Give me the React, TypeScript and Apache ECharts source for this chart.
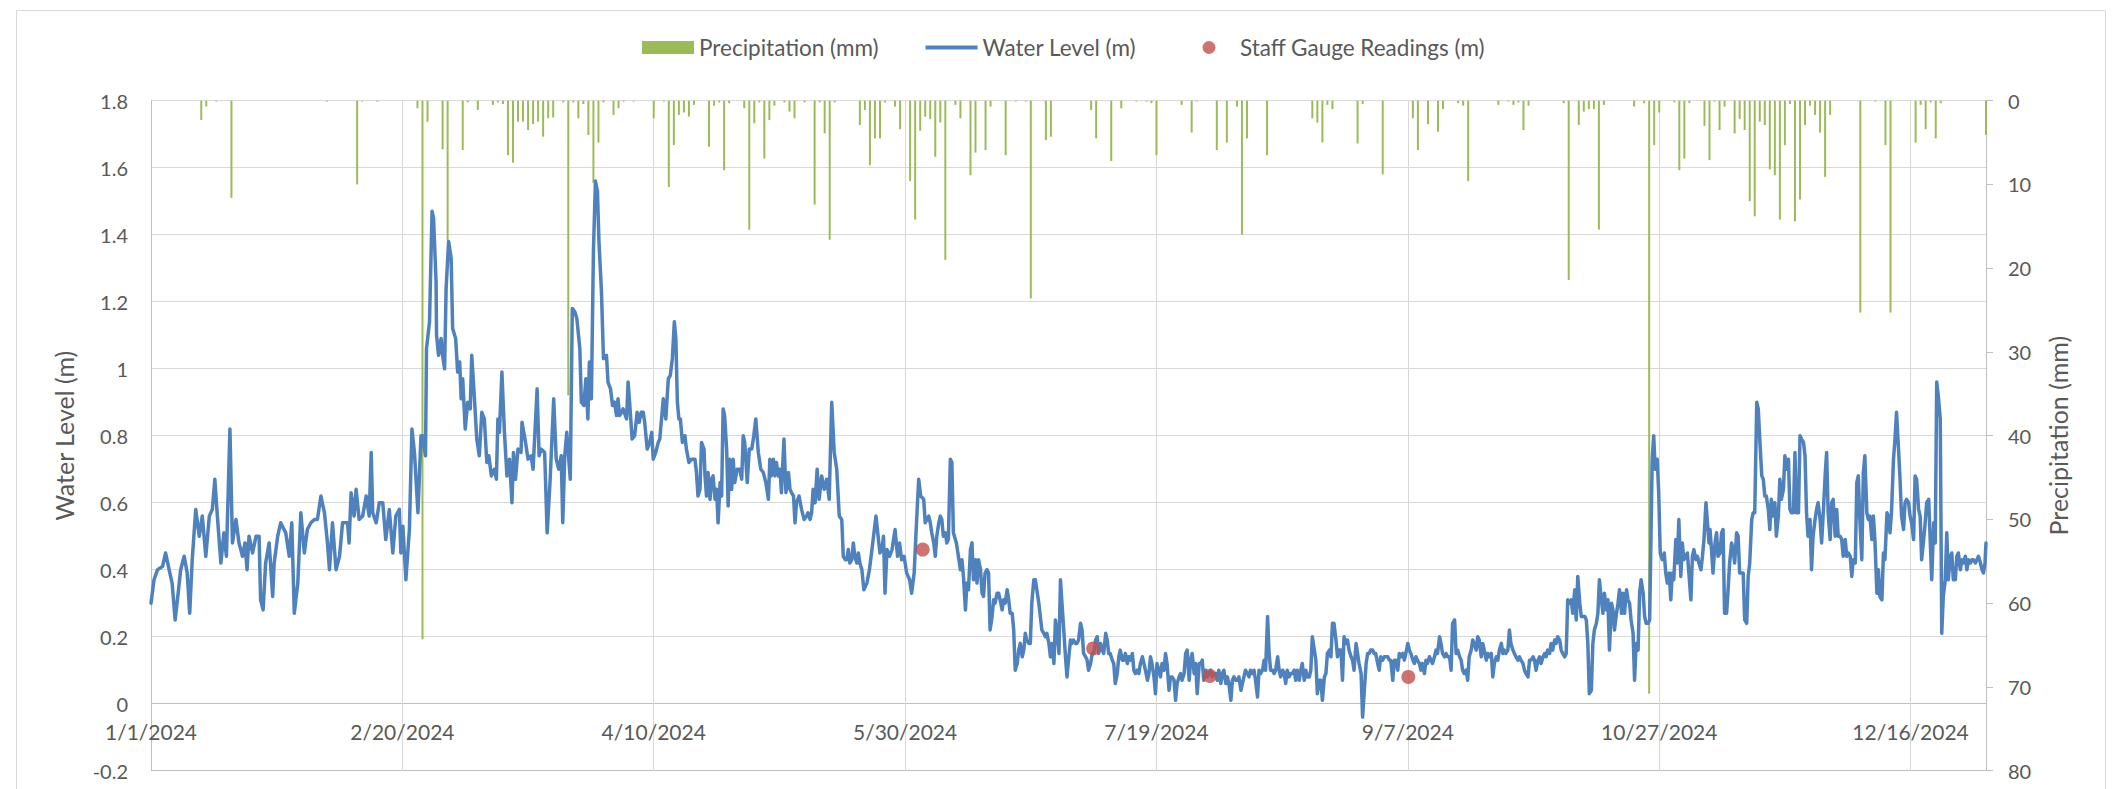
import React, { useEffect, useRef } from "react";
import * as echarts from "echarts";

// ---- Tick labels ----
const xTickLabels = ["1/1/2024", "2/20/2024", "4/10/2024", "5/30/2024", "7/19/2024", "9/7/2024", "10/27/2024", "12/16/2024"];

// ---- Water level (m): [day offset from 1/1/2024, level] ----
const levelJanFeb: [number, number][] = [
  [0,0.30],[0.6,0.37],[1.3,0.40],[2.3,0.41],[2.9,0.45],[3.6,0.40],[4.2,0.36],[4.8,0.25],[5.4,0.33],[5.9,0.40],
  [6.6,0.44],[7.2,0.39],[7.7,0.27],[8.2,0.43],[8.9,0.58],[9.6,0.50],[10.2,0.56],[10.9,0.44],[11.6,0.56],[12.2,0.58],
  [12.7,0.67],[13.2,0.56],[13.9,0.42],[14.5,0.51],[15.0,0.44],[15.7,0.82],[16.2,0.48],[16.9,0.55],[17.5,0.48],[18.2,0.44],
  [18.7,0.48],[19.1,0.40],[19.5,0.50],[20.2,0.45],[20.9,0.50],[21.5,0.50],[21.8,0.31],[22.3,0.28],[22.8,0.42],[23.5,0.48],
  [24.2,0.32],[24.5,0.42],[25.2,0.50],[25.8,0.54],[26.8,0.51],[27.5,0.44],[28.0,0.54],[28.5,0.27],[29.2,0.36],[29.8,0.57],
  [30.5,0.45],[31.1,0.52],[31.8,0.54],[32.5,0.55],[33.1,0.55],[33.8,0.62],[34.5,0.57],[35.1,0.48],[35.5,0.40],[36.1,0.54],
  [36.8,0.40],[37.5,0.44],[38.1,0.54],[39.1,0.54],[39.4,0.48],[39.8,0.63],[40.4,0.56],[40.8,0.64],[41.4,0.55],[42.1,0.56],
  [42.8,0.62],[43.4,0.56],[43.8,0.75],[44.1,0.57],[44.8,0.54],[45.4,0.60],[46.1,0.60],[46.7,0.49],[47.4,0.58],[48.1,0.45],
  [48.7,0.56],
];
const levelFebApr: [number, number][] = [
  [49.4,0.58],[49.7,0.45],[50.1,0.53],[50.7,0.37],[51.4,0.52],[51.9,0.82],[52.4,0.75],[53.1,0.57],[53.7,0.80],[54.0,0.80],
  [54.6,0.74],[54.8,1.06],[55.4,1.14],[55.9,1.47],[56.2,1.45],[56.7,1.26],[56.8,1.10],[57.2,1.04],[57.7,1.09],[58.0,1.04],
  [58.4,1.00],[58.7,1.24],[59.2,1.38],[59.7,1.33],[60.0,1.12],[60.6,1.09],[61.0,0.99],[61.4,1.02],[61.7,0.91],[62.0,0.97],
  [62.5,0.82],[63.0,0.90],[63.5,0.88],[63.8,1.04],[64.3,0.92],[64.8,0.79],[65.3,0.74],[65.8,0.87],[66.3,0.85],[66.8,0.72],
  [67.2,0.74],[67.7,0.68],[68.3,0.70],[68.7,0.67],[69.0,0.85],[69.3,0.81],[69.8,0.99],[70.3,0.81],[70.8,0.68],[71.3,0.73],
  [71.8,0.60],[72.1,0.75],[72.5,0.67],[73.0,0.76],[73.6,0.75],[73.8,0.84],[74.5,0.78],[75.0,0.73],[75.6,0.74],[76.0,0.70],
  [76.8,0.94],[77.2,0.74],[77.6,0.76],[78.3,0.75],[78.8,0.51],[79.4,0.67],[80.1,0.91],[80.6,0.73],[81.1,0.70],[81.6,0.74],
  [81.9,0.54],[82.3,0.74],[82.7,0.81],[83.4,0.67],[83.8,1.18],[84.3,1.17],[84.7,1.15],[85.3,1.06],[85.6,0.90],[86.1,0.89],
  [86.5,0.97],[86.9,0.85],[87.2,1.02],[87.6,0.91],[88.0,1.35],[88.4,1.56],[88.8,1.53],[89.1,1.38],[89.6,1.23],[90.0,1.03],
  [90.6,1.04],[90.9,0.96],[91.4,0.94],[91.8,0.89],[92.2,0.90],[92.6,0.86],[92.9,0.91],[93.2,0.86],[93.6,0.87],[93.9,0.88],
  [94.6,0.85],[94.9,0.96],[95.2,0.90],[95.7,0.79],[96.2,0.80],[96.7,0.87],[97.1,0.84],[97.5,0.87],[97.9,0.87],[98.2,0.84],
  [98.7,0.76],[99.2,0.78],[99.6,0.81],[99.9,0.73],[100.4,0.75],[100.9,0.78],[101.2,0.79],[101.9,0.91],[102.4,0.85],[102.9,0.97],
];
const levelAprJun: [number, number][] = [
  [103.3,0.98],[103.7,1.03],[104.1,1.14],[104.4,1.09],[104.7,0.90],[105.0,0.85],[105.3,0.85],[105.7,0.78],[106.2,0.80],[106.5,0.76],
  [107.0,0.72],[107.5,0.73],[108.2,0.73],[108.5,0.69],[108.8,0.62],[109.2,0.64],[109.5,0.78],[110.0,0.76],[110.2,0.68],[110.5,0.62],
  [110.8,0.69],[111.2,0.61],[111.5,0.67],[111.8,0.68],[112.2,0.61],[112.5,0.64],[112.8,0.54],[113.2,0.66],[113.5,0.62],[113.8,0.88],
  [114.1,0.86],[114.5,0.76],[114.8,0.59],[115.1,0.73],[115.5,0.64],[115.8,0.73],[116.1,0.66],[116.6,0.70],[117.1,0.70],[117.5,0.67],
  [117.8,0.80],[118.1,0.78],[118.6,0.66],[119.0,0.76],[119.5,0.76],[119.9,0.80],[120.3,0.85],[120.8,0.75],[121.3,0.70],[121.8,0.69],
  [122.3,0.66],[122.8,0.61],[123.1,0.73],[123.4,0.68],[123.8,0.73],[124.1,0.68],[124.4,0.72],[124.8,0.68],[125.1,0.70],[125.4,0.63],
  [125.9,0.79],[126.3,0.63],[126.8,0.69],[127.1,0.64],[127.4,0.63],[127.8,0.62],[128.1,0.54],[128.4,0.60],[128.9,0.62],[129.4,0.58],
  [129.9,0.55],[130.4,0.56],[130.7,0.57],[131.1,0.55],[131.4,0.57],[131.7,0.64],[132.1,0.60],[132.5,0.70],[132.9,0.61],[133.4,0.68],
  [133.9,0.64],[134.4,0.67],[134.9,0.61],[135.4,0.90],[135.9,0.75],[136.4,0.70],[136.9,0.56],[137.4,0.55],[137.7,0.44],[138.1,0.43],
  [138.4,0.43],[138.7,0.46],[139.0,0.42],[139.4,0.43],[139.7,0.48],[140.0,0.44],[140.4,0.42],[140.7,0.45],[141.0,0.42],[141.4,0.40],
  [141.8,0.34],[142.4,0.36],[142.9,0.40],[143.4,0.46],[143.8,0.51],[144.2,0.56],[144.7,0.49],[145.0,0.45],[145.4,0.46],[145.7,0.50],
  [146.0,0.33],[146.4,0.46],[146.9,0.44],[147.4,0.46],[148.0,0.52],[148.5,0.44],[148.9,0.48],[149.3,0.43],[149.8,0.44],[150.3,0.39],
  [150.9,0.37],[151.3,0.33],[151.8,0.39],[152.2,0.52],[152.7,0.67],[153.1,0.62],[153.7,0.61],[154.0,0.54],[154.7,0.56],
];
const levelJunJul: [number, number][] = [
  [155.0,0.54],[155.3,0.51],[155.7,0.48],[156.0,0.44],[156.3,0.50],[156.7,0.54],[157.0,0.56],[157.3,0.55],[157.6,0.50],[158.0,0.51],
  [158.3,0.48],[158.6,0.49],[159.0,0.73],[159.3,0.72],[159.6,0.51],[160.2,0.48],[160.6,0.44],[161.0,0.40],[161.3,0.43],[161.6,0.38],
  [162.0,0.28],[162.3,0.36],[162.6,0.34],[163.0,0.46],[163.3,0.48],[163.6,0.37],[164.0,0.43],[164.3,0.36],[164.6,0.43],[165.0,0.40],
  [165.3,0.33],[165.6,0.32],[165.9,0.39],[166.3,0.40],[166.6,0.39],[166.9,0.22],[167.3,0.26],[167.6,0.31],[167.9,0.30],[168.3,0.33],
  [168.6,0.33],[168.9,0.31],[169.3,0.28],[169.6,0.31],[169.9,0.30],[170.3,0.34],[170.6,0.31],[170.9,0.27],[171.3,0.27],[171.6,0.22],
  [171.9,0.10],[172.3,0.12],[172.6,0.16],[172.9,0.18],[173.3,0.14],[173.6,0.16],[173.9,0.21],[174.2,0.19],[174.6,0.18],[174.9,0.18],
  [175.2,0.30],[175.6,0.37],[175.9,0.37],[176.2,0.34],[176.6,0.30],[176.9,0.26],[177.2,0.22],[177.6,0.21],[177.9,0.20],[178.2,0.21],
  [178.6,0.18],[178.9,0.14],[179.2,0.18],[179.6,0.12],[179.9,0.25],[180.2,0.22],[180.6,0.15],[180.9,0.37],[181.2,0.30],[181.6,0.21],
  [181.9,0.14],[182.2,0.08],[182.5,0.13],[182.9,0.19],[183.2,0.18],[183.5,0.19],[183.9,0.18],[184.2,0.18],[184.5,0.19],[184.9,0.24],
  [185.2,0.22],[185.5,0.15],[185.9,0.14],[186.2,0.13],[186.5,0.10],[186.9,0.12],[187.2,0.15],[187.5,0.15],[187.9,0.19],[188.2,0.20],
  [188.5,0.15],[188.9,0.18],[189.2,0.16],[189.5,0.15],[189.9,0.21],[190.2,0.19],[190.5,0.15],[190.8,0.15],[191.2,0.13],[191.5,0.12],
  [191.8,0.06],[192.2,0.09],[192.5,0.14],[192.8,0.16],[193.2,0.13],[193.5,0.13],[193.8,0.15],[194.2,0.12],[194.5,0.14],[194.8,0.13],
  [195.2,0.15],[195.5,0.10],[195.8,0.09],[196.2,0.10],[196.5,0.09],[196.8,0.12],[197.2,0.14],[197.5,0.12],[197.8,0.10],[198.2,0.07],
  [198.5,0.09],[198.8,0.14],[199.1,0.12],[199.5,0.08],[199.8,0.03],[200.1,0.12],[200.5,0.10],[200.8,0.08],[201.1,0.12],[201.5,0.10],
  [201.8,0.15],[202.1,0.12],[202.5,0.04],[202.8,0.08],[203.1,0.08],[203.5,0.07],[203.8,0.01],[204.1,0.06],[204.5,0.08],[204.8,0.09],
  [205.1,0.07],[205.5,0.09],[205.8,0.15],[206.1,0.16],
];
const levelJulSep: [number, number][] = [
  [206.5,0.07],[206.8,0.13],[207.1,0.15],[207.5,0.09],[207.8,0.12],[208.1,0.03],[208.5,0.12],[208.8,0.12],[209.1,0.13],[209.4,0.07],
  [209.8,0.10],[210.1,0.08],[210.4,0.09],[210.8,0.10],[211.1,0.08],[211.4,0.09],[211.8,0.09],[212.1,0.07],[212.4,0.10],[212.8,0.06],
  [213.1,0.09],[213.4,0.10],[213.8,0.06],[214.1,0.08],[214.4,0.06],[214.8,0.01],[215.1,0.07],[215.4,0.08],[215.8,0.07],[216.1,0.07],
  [216.4,0.08],[216.8,0.04],[217.1,0.06],[217.4,0.08],[217.7,0.10],[218.1,0.09],[218.4,0.08],[218.7,0.10],[219.1,0.09],[219.4,0.10],
  [219.7,0.07],[220.1,0.02],[220.4,0.10],[220.7,0.09],[221.1,0.10],[221.4,0.13],[221.7,0.10],[222.1,0.26],[222.4,0.15],[222.7,0.10],
  [223.1,0.10],[223.4,0.09],[223.7,0.10],[224.1,0.14],[224.4,0.10],[224.7,0.08],[225.1,0.10],[225.4,0.09],[225.7,0.06],[226.0,0.10],
  [226.4,0.08],[226.7,0.09],[227.0,0.09],[227.4,0.10],[227.7,0.07],[228.0,0.10],[228.4,0.07],[228.7,0.10],[229.0,0.12],[229.4,0.07],
  [229.7,0.10],[230.0,0.08],[230.4,0.08],[230.7,0.10],[231.0,0.20],[231.4,0.16],[231.7,0.13],[232.0,0.03],[232.4,0.07],[232.7,0.07],
  [233.0,0.01],[233.4,0.08],[233.7,0.09],[234.0,0.15],[234.4,0.16],[234.7,0.14],[235.0,0.24],[235.3,0.24],[235.7,0.19],[236.0,0.14],
  [236.3,0.16],[236.7,0.16],[237.0,0.07],[237.3,0.20],[237.7,0.18],[238.0,0.19],[238.3,0.16],[238.7,0.14],[239.0,0.13],[239.3,0.10],
  [239.7,0.18],[240.0,0.15],[240.3,0.12],[240.7,0.09],[241.0,-0.04],[241.3,0.03],[241.7,0.12],[242.0,0.15],[242.3,0.15],[242.6,0.16],
  [243.0,0.16],[243.3,0.15],[243.6,0.15],[244.0,0.12],[244.3,0.10],[244.6,0.14],[245.0,0.13],[245.3,0.14],[245.6,0.14],[246.0,0.14],
  [246.3,0.13],[246.6,0.13],[247.0,0.07],[247.3,0.13],[247.6,0.13],[248.0,0.10],[248.3,0.15],[248.6,0.14],[249.0,0.15],[249.3,0.13],
  [249.6,0.15],[250.0,0.18],[250.3,0.16],[250.6,0.15],[251.0,0.13],[251.3,0.12],[251.6,0.14],[251.9,0.13],[252.3,0.12],[252.6,0.10],
  [252.9,0.12],[253.3,0.09],[253.6,0.13],[253.9,0.12],[254.3,0.14],[254.6,0.13],[254.9,0.12],[255.3,0.14],[255.6,0.16],[255.9,0.15],
  [256.3,0.20],[256.6,0.18],[256.9,0.15],[257.3,0.14],[257.6,0.15],[257.9,0.14],
];
const levelSepNov: [number, number][] = [
  [258.3,0.14],[258.6,0.10],[258.9,0.24],[259.3,0.25],[259.6,0.15],[259.9,0.16],[260.3,0.14],[260.6,0.13],[260.9,0.10],[261.2,0.09],
  [261.6,0.10],[261.9,0.07],[262.2,0.14],[262.6,0.16],[262.9,0.19],[263.2,0.18],[263.6,0.16],[263.9,0.20],[264.2,0.19],[264.6,0.14],
  [264.9,0.18],[265.2,0.16],[265.6,0.13],[265.9,0.15],[266.2,0.14],[266.6,0.15],[266.9,0.08],[267.2,0.12],[267.6,0.14],[267.9,0.13],
  [268.2,0.16],[268.6,0.18],[268.9,0.15],[269.2,0.16],[269.5,0.15],[269.9,0.16],[270.2,0.22],[270.5,0.18],[270.9,0.16],[271.2,0.15],
  [271.5,0.14],[271.9,0.13],[272.2,0.14],[272.5,0.13],[272.9,0.12],[273.2,0.10],[273.5,0.09],[273.9,0.08],[274.2,0.13],[274.5,0.13],
  [274.9,0.14],[275.2,0.13],[275.5,0.10],[275.9,0.13],[276.2,0.14],[276.5,0.12],[276.9,0.14],[277.2,0.15],[277.5,0.14],[277.8,0.16],
  [278.2,0.15],[278.5,0.18],[278.8,0.16],[279.2,0.19],[279.5,0.18],[279.8,0.20],[280.2,0.19],[280.5,0.16],[280.8,0.15],[281.2,0.14],
  [281.5,0.15],[281.8,0.31],[282.2,0.30],[282.5,0.31],[282.8,0.27],[283.2,0.34],[283.5,0.25],[283.8,0.38],[284.2,0.30],[284.5,0.26],
  [284.8,0.26],[285.2,0.26],[285.5,0.25],[285.8,0.18],[286.1,0.03],[286.5,0.04],[286.8,0.18],[287.1,0.22],[287.5,0.24],[287.8,0.27],
  [288.1,0.37],[288.5,0.31],[288.8,0.27],[289.1,0.33],[289.5,0.28],[289.8,0.31],[290.1,0.16],[290.5,0.30],[290.8,0.28],[291.1,0.22],
  [291.5,0.27],[291.8,0.30],[292.1,0.34],[292.5,0.27],[292.8,0.33],[293.1,0.27],[293.5,0.34],[293.8,0.31],[294.1,0.30],[294.4,0.25],
  [294.8,0.21],[295.1,0.07],[295.4,0.18],[295.8,0.16],[296.1,0.33],[296.4,0.37],[296.8,0.33],[297.1,0.26],[297.4,0.24],[297.8,0.24],
  [298.1,0.25],[298.3,0.44],[298.6,0.73],[298.9,0.80],[299.2,0.70],[299.6,0.73],[299.9,0.63],[300.2,0.45],[300.6,0.43],[301.0,0.45],
  [301.3,0.39],[301.6,0.36],[302.0,0.39],[302.3,0.31],[302.6,0.39],[302.9,0.37],[303.3,0.49],[303.6,0.42],[303.9,0.55],[304.3,0.38],
  [304.6,0.48],[304.9,0.43],[305.3,0.44],[305.6,0.45],[305.9,0.39],[306.3,0.31],[306.6,0.44],[306.9,0.46],[307.3,0.43],[307.6,0.44],
  [307.9,0.42],[308.3,0.40],[308.6,0.44],[308.9,0.49],[309.3,0.60],[309.6,0.54],[309.9,0.48],
];
const levelNovDec: [number, number][] = [
  [310.1,0.52],[310.4,0.46],[310.7,0.39],[311.1,0.48],[311.4,0.51],[311.7,0.44],[312.1,0.45],[312.4,0.51],[312.7,0.52],[313.0,0.27],
  [313.4,0.27],[313.7,0.34],[314.0,0.42],[314.4,0.48],[314.7,0.46],[315.0,0.42],[315.4,0.51],[315.7,0.50],[316.0,0.39],[316.4,0.39],
  [316.7,0.39],[317.0,0.25],[317.4,0.24],[317.7,0.38],[318.0,0.42],[318.4,0.55],[318.7,0.57],[319.0,0.57],[319.4,0.90],[319.7,0.88],
  [320.0,0.79],[320.4,0.68],[320.7,0.67],[321.0,0.62],[321.3,0.62],[321.7,0.58],[322.0,0.52],[322.3,0.61],[322.7,0.56],[323.0,0.60],
  [323.3,0.50],[323.7,0.56],[324.0,0.67],[324.3,0.61],[324.7,0.64],[325.0,0.74],[325.3,0.70],[325.7,0.73],[326.0,0.58],[326.3,0.57],
  [326.7,0.57],[327.0,0.75],[327.3,0.57],[327.7,0.57],[328.0,0.80],[328.3,0.79],[328.7,0.78],[329.0,0.74],[329.3,0.57],[329.6,0.50],
  [330.0,0.55],[330.3,0.40],[330.6,0.50],[331.0,0.55],[331.3,0.58],[331.6,0.60],[332.0,0.55],[332.3,0.48],[332.6,0.56],[333.0,0.68],
  [333.3,0.75],[333.6,0.57],[334.0,0.49],[334.3,0.60],[334.6,0.61],[335.0,0.50],[335.3,0.58],[335.6,0.50],[336.0,0.50],[336.3,0.49],
  [336.6,0.44],[337.0,0.49],[337.3,0.44],[337.6,0.45],[338.0,0.44],[338.3,0.38],[338.6,0.43],[339.0,0.42],[339.3,0.66],[339.6,0.68],
  [339.9,0.55],[340.3,0.43],[340.6,0.69],[340.9,0.74],[341.3,0.57],[341.6,0.55],[341.9,0.56],[342.3,0.49],[342.6,0.56],[342.9,0.49],
  [343.3,0.33],[343.6,0.40],[343.9,0.32],[344.3,0.31],[344.6,0.45],[344.9,0.43],[345.3,0.57],[345.6,0.56],[345.9,0.51],[346.2,0.57],
  [346.6,0.73],[346.9,0.79],[347.2,0.87],[347.6,0.76],[347.9,0.67],[348.2,0.56],[348.6,0.52],[348.9,0.60],[349.2,0.61],[349.6,0.60],
  [349.9,0.56],[350.2,0.54],[350.6,0.49],[350.9,0.68],[351.2,0.67],[351.6,0.58],[351.9,0.56],[352.2,0.43],[352.6,0.49],[352.9,0.54],
  [353.2,0.60],[353.6,0.61],[353.9,0.49],[354.2,0.37],[354.6,0.54],[354.9,0.48],[355.2,0.96],[355.5,0.92],[355.9,0.85],[356.2,0.21],
  [356.5,0.32],[356.9,0.37],[357.2,0.51],[357.5,0.37],[357.9,0.44],[358.2,0.45],[358.5,0.37],[358.9,0.37],[359.2,0.44],[359.5,0.45],
  [359.9,0.40],[360.2,0.43],[360.5,0.42],[360.9,0.44],[361.2,0.40],[361.5,0.43],[361.9,0.42],[362.2,0.43],[362.5,0.43],[362.9,0.42],
  [363.2,0.43],[363.5,0.44],[363.9,0.42],[364.2,0.40],[364.5,0.39],[364.8,0.42],[365.0,0.48],
];

// ---- Precipitation (mm): [day offset, mm] ----
const precipitation: [number, number][] = [
  [10,2.3],[11,0.7],[13,0.1],[16,11.6],[35,0.1],[41,10.0],[42,0.1],[45,0.1],
  [53,0.9],[54,64.3],[55,2.5],[58,5.8],[59,16.7],[62,5.9],[63,0.2],[65,1.1],[68,0.5],[69,0.2],[70,0.4],[71,6.5],
  [72,7.4],[73,2.5],[74,2.5],[75,3.5],[76,2.8],[77,2.5],[78,4.3],[79,2.1],[80,2.0],[82,0.2],[83,35.2],[84,0.2],
  [85,2.1],[86,0.4],[87,4.1],[88,9.8],[89,5.0],[90,0.2],[92,1.7],[93,0.9],[94,0.1],[96,0.1],[100,2.1],[102,0.1],
  [103,10.3],[104,5.3],[105,1.7],[106,1.4],[107,1.9],[108,0.5],[111,5.5],[112,0.6],[113,0.2],[114,8.3],[115,0.3],
  [118,0.9],[119,15.4],[120,2.7],[121,0.2],[122,6.9],[123,2.3],[124,0.6],[126,0.2],[127,1.3],[128,2.1],[130,0.2],
  [132,12.4],[133,0.2],[134,3.9],[135,16.6],[136,0.2],[141,2.9],[142,1.1],[143,7.7],[144,4.5],[145,4.5],[146,0.2],
  [148,0.7],[149,3.4],[151,9.6],[152,14.2],[153,3.6],[154,1.9],[155,2.2],[156,6.7],[157,2.6],[158,19.0],[160,0.5],
  [161,2.1],[163,8.9],[164,6.2],[166,5.9],[167,0.7],[170,6.5],[172,0.1],[174,0.1],[175,23.6],[178,4.7],[179,4.3],
  [187,1.1],[188,4.5],[191,7.2],[193,0.9],[196,0.1],[198,0.1],[199,0.3],[200,6.5],[205,0.5],[207,3.8],[208,0.1],
  [212,5.9],[214,5.0],[216,0.7],[217,16.0],[218,4.5],[222,6.5],[231,2.1],[232,2.6],[233,5.0],[234,0.5],[235,1.0],
  [240,5.1],[241,0.4],[245,8.8],[251,2.1],[252,5.9],[254,2.8],[256,3.7],[257,1.0],[260,0.3],[261,0.6],[262,9.6],
  [268,0.5],[270,0.1],[271,0.5],[272,0.2],[273,3.5],[274,0.6],[281,0.3],[282,21.4],[284,2.9],[285,1.3],[286,1.0],
  [287,1.0],[288,15.4],[289,0.5],[295,0.7],[297,0.3],[298,70.8],[299,5.3],[300,1.4],[303,0.2],[304,8.3],[305,6.9],
  [306,0.3],[309,3.0],[310,7.1],[311,0.1],[312,3.5],[313,0.7],[315,3.9],[316,2.2],[317,3.5],[318,12.0],[319,13.8],
  [320,2.5],[321,2.9],[322,8.2],[323,8.9],[324,14.2],[325,5.3],[326,0.4],[327,14.4],[328,11.8],[329,2.9],[330,0.6],
  [331,1.7],[332,3.8],[333,9.1],[334,1.7],[340,25.3],[343,0.1],[345,5.3],[346,25.3],[351,5.0],[352,0.5],[353,3.4],
  [354,0.2],[355,4.5],[356,0.3],[365,4.1],
];

// ---- Staff gauge readings (m) ----
const gaugeReadings: [number, number][] = [
  [153.5,0.46],[187.4,0.165],[210.6,0.083],[250.1,0.08],
];

const waterLevel = [
  ...levelJanFeb, ...levelFebApr, ...levelAprJun, ...levelJunJul, ...levelJulSep, ...levelSepNov, ...levelNovDec,
];

const FONT = "Lato, 'Noto Sans', sans-serif";
const TEXT = "#595959";
const GRID = "#d9d9d9";
const AXIS = "#bfbfbf";

// legend icons: a thin line and a centred dot inside a 52x13 box
const LINE_ICON = "path://M0,0L52,0L52,4L0,4Z";
const DOT_ICON = "path://M0,6.5M52,6.5M19.5,6.5A6.5,6.5,0,1,1,32.5,6.5A6.5,6.5,0,1,1,19.5,6.5Z";

export default function App() {
  const ref = useRef<HTMLDivElement>(null);
  useEffect(() => {
    if (!ref.current) return;
    const chart = echarts.init(ref.current, undefined, { renderer: "svg" });
    chart.setOption({
      animation: false,
      backgroundColor: "#ffffff",
      textStyle: { fontFamily: FONT },
      graphic: [
        {
          type: "rect",
          silent: true,
          z: -10,
          shape: { x: 16.5, y: 10.5, width: 2089, height: 800 },
          style: { fill: "none", stroke: GRID, lineWidth: 1 },
        },
      ],
      legend: {
        left: 637,
        top: 31,
        itemWidth: 52,
        itemHeight: 13,
        itemGap: 47,
        symbolKeepAspect: true,
        textStyle: { fontSize: 22.5, color: TEXT, fontFamily: FONT },
        data: [
          { name: "Precipitation (mm)", icon: "rect" },
          { name: "Water Level (m)", icon: LINE_ICON },
          { name: "Staff Gauge Readings (m)", icon: DOT_ICON },
        ],
      },
      grid: { left: 151, right: 137, top: 100.7, bottom: 18.3 },
      xAxis: {
        type: "value",
        position: "bottom",
        min: 0,
        max: 365,
        interval: 50,
        axisLine: { show: false, onZero: false },
        axisTick: { show: false },
        axisLabel: {
          showMaxLabel: false,
          margin: -50,
          fontSize: 21,
          color: TEXT,
          fontFamily: FONT,
          formatter: (v: number) => xTickLabels[Math.round(v / 50)] ?? "",
        },
        splitLine: { show: true, lineStyle: { color: GRID, width: 1 } },
      },
      yAxis: [
        {
          type: "value",
          min: -0.2,
          max: 1.8,
          interval: 0.2,
          name: "Water Level (m)",
          nameLocation: "middle",
          nameGap: 75,
          nameRotate: 90,
          nameTextStyle: { fontSize: 25, color: TEXT, fontFamily: FONT },
          axisLine: { show: true, onZero: false, lineStyle: { color: AXIS } },
          axisTick: { show: false },
          axisLabel: { margin: 23, fontSize: 20, color: TEXT, fontFamily: FONT },
          splitLine: {
            show: true,
            lineStyle: { color: [AXIS, AXIS, GRID, GRID, GRID, GRID, GRID, GRID, GRID, GRID, GRID], width: 1 },
          },
        },
        {
          type: "value",
          position: "right",
          min: 0,
          max: 80,
          interval: 10,
          inverse: true,
          name: "Precipitation (mm)",
          nameLocation: "middle",
          nameGap: 59,
          nameRotate: 90,
          nameTextStyle: { fontSize: 25, color: TEXT, fontFamily: FONT },
          axisLine: { show: true, onZero: false, lineStyle: { color: AXIS } },
          axisTick: { show: true, inside: false, length: 7, lineStyle: { color: AXIS } },
          axisLabel: { margin: 22, fontSize: 20, color: TEXT, fontFamily: FONT },
          splitLine: { show: false },
        },
      ],
      series: [
        {
          name: "Precipitation (mm)",
          type: "bar",
          yAxisIndex: 1,
          barWidth: 2,
          itemStyle: { color: "#9BBB59" },
          data: precipitation,
          z: 1,
        },
        {
          name: "Water Level (m)",
          type: "line",
          yAxisIndex: 0,
          symbol: "none",
          showSymbol: false,
          lineStyle: { color: "#4F81BD", width: 3.5, join: "round", cap: "round" },
          itemStyle: { color: "#4F81BD" },
          data: waterLevel,
          z: 2,
        },
        {
          name: "Staff Gauge Readings (m)",
          type: "scatter",
          yAxisIndex: 0,
          symbol: "circle",
          symbolSize: 14,
          itemStyle: { color: "#C0504D" },
          data: gaugeReadings,
          z: 3,
        },
      ],
    });
    return () => chart.dispose();
  }, []);
  return (
    <div
      ref={ref}
      style={{ position: "fixed", left: 0, top: 0, width: 2123, height: 789, background: "#fff" }}
    />
  );
}
